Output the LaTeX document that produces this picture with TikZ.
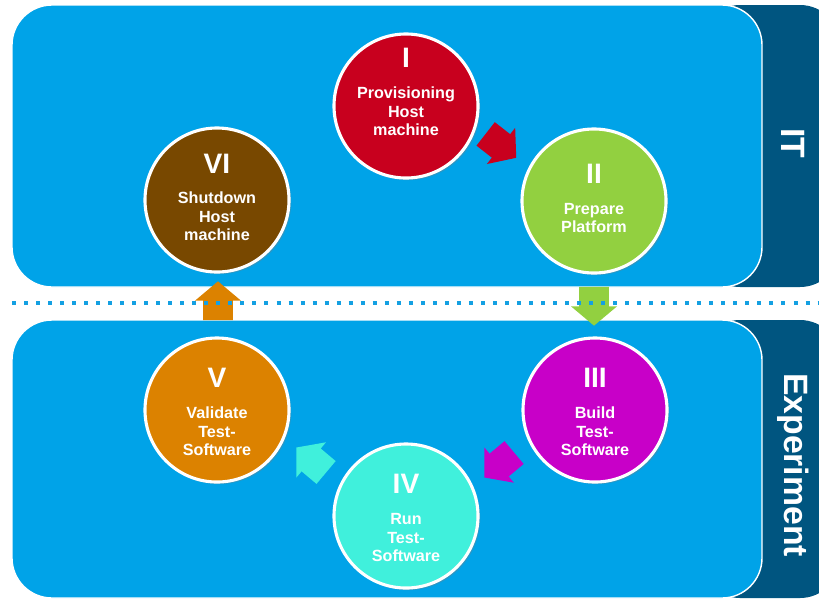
\documentclass[tikz,border=0pt]{standalone}
\usepackage{fontspec}
\setmainfont{Liberation Sans}
\usetikzlibrary{shapes.arrows,shadows}
\definecolor{boxblue}{RGB}{0,163,232}
\definecolor{bandblue}{RGB}{0,85,128}
\definecolor{dotblue}{RGB}{20,160,226}
\definecolor{stageI}{RGB}{200,0,30}
\definecolor{stageII}{RGB}{146,208,64}
\definecolor{stageIII}{RGB}{200,0,200}
\definecolor{stageIV}{RGB}{64,240,220}
\definecolor{stageV}{RGB}{220,130,0}
\definecolor{stageVI}{RGB}{120,72,0}
\tikzset{panel/.style={fill=boxblue, draw=white, line width=1pt, rounded corners=1cm},
 band/.style={fill=bandblue, rounded corners=1cm},
 dotline/.style={draw=dotblue, line width=2.85pt, dash pattern=on 2.85pt off 5.7pt},
 stage/.style={circle, draw=white, line width=2.2pt, minimum size=3.6cm,
   drop shadow={opacity=0.35, shadow xshift=1.5pt, shadow yshift=-1.5pt}},
 stagelabel/.style={text=white, align=center, font=\bfseries\fontsize{11.5}{13}\selectfont},
 handover/.style={single arrow, draw=none, inner xsep=0pt, inner ysep=0.36cm,
   minimum height=0.97cm, minimum width=1.15cm, single arrow head extend=0.2cm,
   single arrow tip angle=100},
 sidelabel/.style={text=white, rotate=-90, font=\bfseries\fontsize{24}{24}\selectfont},
 }

\begin{document}
\begin{tikzpicture}[x=0.025cm, y=-0.025cm]
        \useasboundingbox (0,0) rectangle (819,600);
        \clip (0,0) rectangle (819,600);
        \fill[band] (700,5) rectangle (840,287);
        \fill[band] (700,320) rectangle (840,598);
        \draw[panel] (12,5) rectangle (762,287);
        \draw[panel] (12,320) rectangle (762,598);
        \node[sidelabel] (itlab) at (793,143) {IT};
        \node[sidelabel] (explab) at (793,465) {Experiment};
        \foreach \nm/\px/\py/\ang/\col in {a12/496/142/-38/stageI, a23/594/300/-90/stageII,
            a34/504/461/-140/stageIII, a45/316/464/140/stageIV, a56/218/307/90/stageV} {
            \node[handover, fill=\col, rotate=\ang] (\nm) at (\px,\py) {};
        }
        \draw[dotline] (12,303) -- (819,303);
        \foreach \nm/\px/\py/\col/\num/\dy/\txt in {
            s1/406/106/stageI/I/10pt/{Provisioning\\Host\\machine},
            s2/594/201/stageII/II/2pt/{Prepare\\Platform},
            s3/595/410/stageIII/III/-1.5pt/{Build\\Test-\\Software},
            s4/406/516/stageIV/IV/-1.5pt/{Run\\Test-\\Software},
            s5/217/410/stageV/V/-1.5pt/{Validate\\Test-\\Software},
            s6/217/200/stageVI/VI/2pt/{Shutdown\\Host\\machine}} {
            \node[stage, fill=\col] (\nm) at (\px,\py) {};
            \node[stagelabel] (\nm-label) at ([yshift=\dy]\nm.center)
                {{\fontsize{20}{20}\selectfont \num}\\[9pt]\txt};
        }
    \end{tikzpicture}
\end{document}
